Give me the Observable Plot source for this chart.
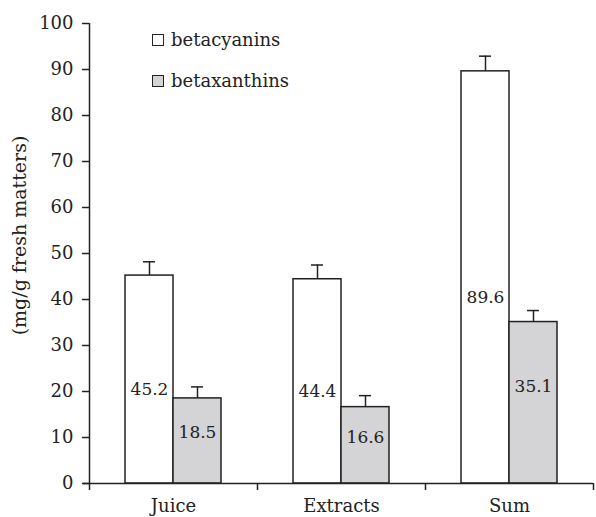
<!DOCTYPE html>
<html><head><meta charset="utf-8">
<script src="https://cdn.jsdelivr.net/npm/d3@7"></script>
<script src="https://cdn.jsdelivr.net/npm/@observablehq/plot@0.6"></script>
<style>
body{margin:0;background:#fff;}
#wrap{position:relative;width:596px;height:517px;}
.leg{position:absolute;left:152px;font-family:"DejaVu Serif";font-size:18px;color:#222;display:flex;align-items:center;line-height:1;}
.sw{width:10px;height:10px;border:1.5px solid #222;margin-right:7px;box-sizing:content-box;}
</style></head><body><div id="wrap"></div>
<script>
const categories = ["Juice", "Extracts", "Sum"];
const series = ["betacyanins", "betaxanthins"];
const betacyanins = [45.2, 44.4, 89.6];
const betaxanthins = [18.5, 16.6, 35.1];
const betacyaninsErr = [3.0, 3.1, 3.3];
const betaxanthinsErr = [2.5, 2.5, 2.5];
const yTicks = [0, 10, 20, 30, 40, 50, 60, 70, 80, 90, 100];
const yLabel = "(mg/g fresh matters)";
const seriesColors = ["#ffffff", "#d4d4d6"];

const values = [betacyanins, betaxanthins];
const errs = [betacyaninsErr, betaxanthinsErr];
const rows = series.map((s, k) => categories.map((c, i) => ({category: c, series: s, value: values[k][i], err: errs[k][i]})));

const ink = "#222";
// per-series offsets inside a category band (band = 168px); label height as a fraction of the bar
const layout = [
  {barL: 36, barR: 84, dx: -24, capL: 54, capR: 102, labelFrac: 0.45},
  {barL: 84, barR: 36, dx: 24, capL: 102, capR: 54, labelFrac: 0.6}
];

function seriesMarks(k) {
  const d = rows[k], L = layout[k];
  return [
    Plot.barY(d, {x: "category", y: "value", fill: seriesColors[k], stroke: ink, strokeWidth: 1.5, insetLeft: L.barL, insetRight: L.barR}),
    Plot.ruleX(d, {x: "category", y1: "value", y2: (r) => r.value + r.err, dx: L.dx, stroke: ink, strokeWidth: 1.5}),
    Plot.tickY(d, {x: "category", y: (r) => r.value + r.err, insetLeft: L.capL, insetRight: L.capR, stroke: ink, strokeWidth: 1.5}),
    Plot.text(d, {x: "category", y: (r) => r.value * L.labelFrac, text: (r) => r.value.toFixed(1), dx: L.dx, fontSize: 17, fill: ink})
  ];
}

const chart = Plot.plot({
  width: 596,
  height: 517,
  marginLeft: 89,
  marginRight: 3,
  marginTop: 23,
  marginBottom: 34,
  style: {fontFamily: "DejaVu Serif", fontSize: "18px", color: ink, background: "#fff"},
  x: {type: "band", domain: categories, padding: 0},
  y: {domain: [0, 100]},
  marks: [
    ...seriesMarks(0),
    ...seriesMarks(1),
    Plot.ruleX([categories[0]], {x: (d) => d, dx: -84, stroke: ink, strokeWidth: 1.5}),
    Plot.ruleY([0], {insetLeft: -6, stroke: ink, strokeWidth: 1.5}),
    Plot.ruleX(categories, {x: (d) => d, dx: -84, y1: () => 0, y2: () => 0, insetBottom: -7, stroke: ink, strokeWidth: 1.5}),
    Plot.ruleX([categories[categories.length - 1]], {x: (d) => d, dx: 84, y1: () => 0, y2: () => 0, insetBottom: -7, stroke: ink, strokeWidth: 1.5}),
    Plot.axisY({ticks: yTicks, tickSize: 7, tickPadding: 9, fontSize: 18, label: null, stroke: ink, strokeWidth: 1.5}),
    Plot.axisX({tickSize: 0, tickPadding: 16, fontSize: 18, label: null}),
    Plot.text([yLabel], {text: (d) => d, frameAnchor: "left", textAnchor: "middle", rotate: -90, dx: -70, dy: -18, fontSize: 19, fill: ink})
  ]
});

const wrap = document.getElementById("wrap");
wrap.appendChild(chart);
const legTops = [31, 72];
series.forEach((s, k) => {
  const div = document.createElement("div");
  div.className = "leg";
  div.style.top = legTops[k] + "px";
  const sw = document.createElement("span");
  sw.className = "sw";
  sw.style.background = seriesColors[k];
  div.appendChild(sw);
  div.appendChild(document.createTextNode(s));
  wrap.appendChild(div);
});
</script>
</body></html>
